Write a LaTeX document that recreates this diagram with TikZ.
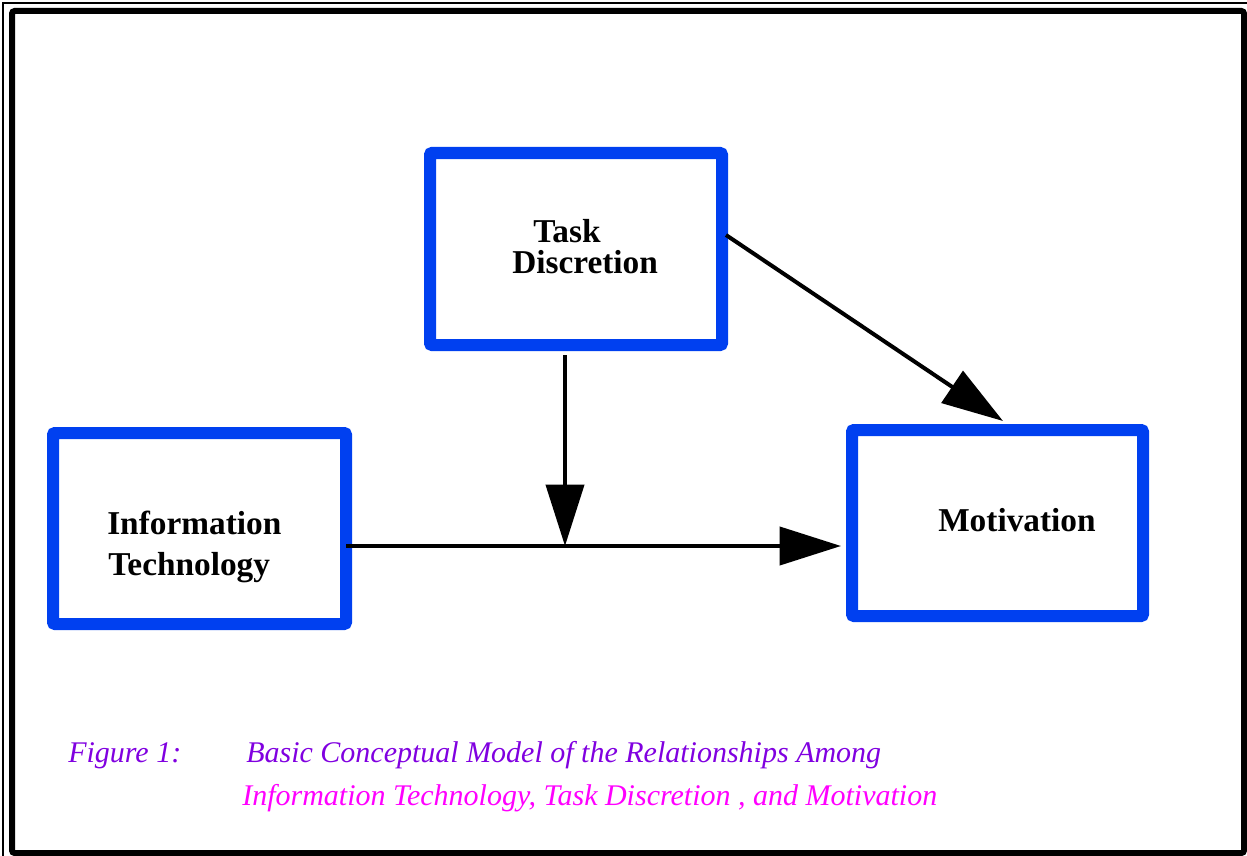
\documentclass[tikz,border=0pt]{standalone}
\usepackage{xcolor}
\usepackage{fontspec}
\setmainfont{Liberation Serif}
\usepackage{tikz}
\usetikzlibrary{positioning, arrows.meta, calc}
\definecolor{boxblue}{RGB}{0,64,240}
\definecolor{capviolet}{RGB}{128,0,224}
\definecolor{capmagenta}{RGB}{255,0,255}
\tikzset{
    blockbox/.style={rectangle, draw=boxblue, line width=9pt, rounded corners=1.5pt, inner sep=0pt, outer sep=0pt},
    blocklabel/.style={inner sep=0pt, anchor=base west, font=\fontsize{25}{30}\selectfont\bfseries},
    flow/.style={draw=black, line width=3pt, -{Triangle[length=46pt, width=28.5pt]}},
    captext/.style={inner sep=0pt, anchor=base west, font=\fontsize{22.5}{27}\selectfont\itshape},
}
\begin{document}
\begin{tikzpicture}[x=0.75pt, y=-0.75pt]
    \useasboundingbox (0,0) rectangle (1247,856);
    % frame
    \draw[line width=1.5pt] (3,856) -- (3,3) -- (1247,3);
    \draw[line width=4.5pt, rounded corners=2pt] (12,11) rectangle (1244,853);

    % boxes
    \node[blockbox, minimum width=219pt, minimum height=144pt] (td) at (576,249) {};
    \node[blockbox, minimum width=219.75pt, minimum height=143.25pt] (it) at (199.5,528.5) {};
    \node[blockbox, minimum width=218.25pt, minimum height=139.5pt] (mot) at (997.5,523) {};

    % labels
    \node[blocklabel] (tdtop) at (533,242) {Task};
    \node[blocklabel] (tdbot) at (512,273) {Discretion};
    \node[blocklabel] (ittop) at (107,534) {Information};
    \node[blocklabel] (itbot) at (108,575) {Technology};
    \node[blocklabel] (motlabel) at (938,531) {Motivation};

    % arrows
    \coordinate (join) at (565,546);
    \draw[flow] (it.east |- join) -- ([xshift=-8.25pt]mot.west |- join);
    \draw[flow] ([yshift=-7.5pt]td.south -| join) -- (join);
    \draw[flow] ([shift={(4,-14)}]td.east) -- ([shift={(5.5,-9)}]mot.north);

    % caption
    \node[captext, text=capviolet] (figno) at (68,762) {Figure 1:};
    \node[captext, text=capviolet] (capone) at (246,762) {Basic Conceptual Model of the Relationships Among};
    \node[captext, text=capmagenta] (captwo) at (242,805) {Information Technology, Task Discretion , and Motivation};
\end{tikzpicture}
\end{document}
